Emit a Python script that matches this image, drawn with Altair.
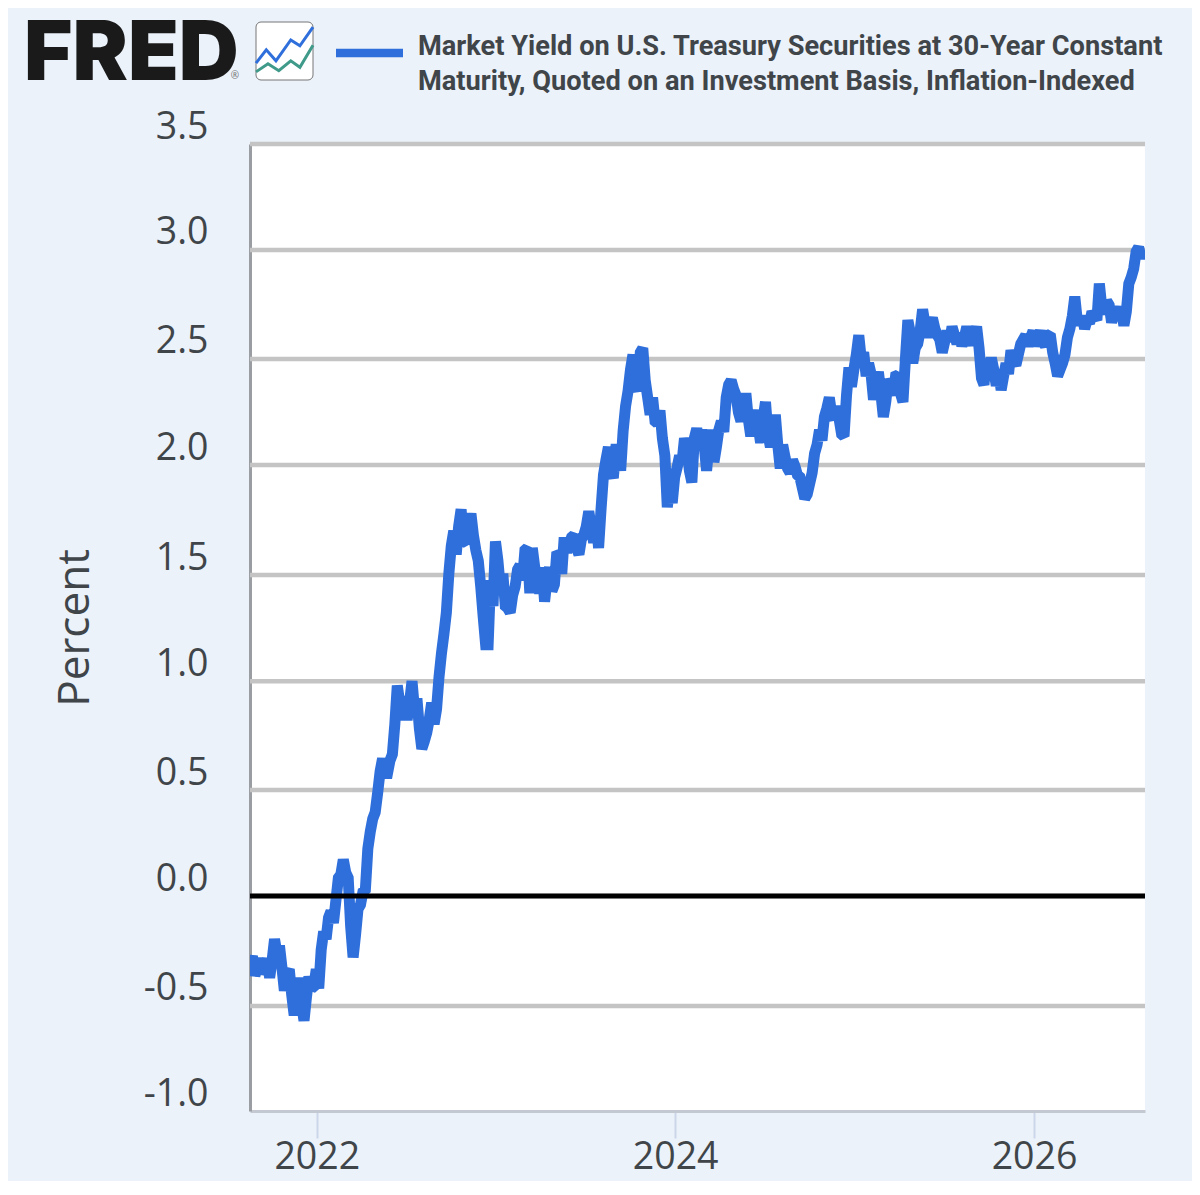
import altair as alt
import pandas as pd

BG = "#ebf2fa"
INK = "#3f4549"
BLUE = "#2f6fdc"

# readings at every 10th day
yields_a = [
    -.31, -.37, -.29, -.34, -.38, -.20, -.23, -.44, -.34, -.555,
    -.38, -.58, -.375, -.42, -.43, -.165, -.10, -.125, .085, .17,
    .085, -.285, -.06, .02, .22, .36, .48, .64, .57, .66,
    .98, .82, .82, 1.0, .92, .685, .76, .90, .87, 1.13,
    1.32, 1.63, 1.59, 1.80, 1.645, 1.78, 1.61, 1.44, 1.17, 1.47,
    1.65, 1.43, 1.35, 1.32, 1.44, 1.54, 1.61, 1.41, 1.53, 1.41,
    1.37, 1.53, 1.45, 1.59, 1.67, 1.64, 1.68, 1.59, 1.68, 1.79,
    1.645, 1.62, 1.96, 2.09, 1.945, 2.08, 2.165, 2.35, 2.52, 2.35,
    2.55, 2.32, 2.32, 2.20, 2.13, 1.81, 1.83, 1.995, 2.02, 2.09,
    1.925, 2.175, 2.17, 1.98, 2.17, 2.09, 2.21, 2.32, 2.40, 2.33,
    2.21, 2.34, 2.14, 2.26, 2.11, 2.30, 2.09, 2.24, 1.99, 2.04,
    1.97, 2.00, 1.95, 1.85, 1.92, 2.06, 2.17, 2.23, 2.32, 2.22,
    2.22, 2.14, 2.46, 2.45, 2.61, 2.53, 2.48, 2.31, 2.44, 2.23,
    2.405, 2.33, 2.425, 2.30, 2.68, 2.48, 2.57, 2.73, 2.60, 2.69,
    2.61, 2.53, 2.63, 2.65, 2.57, 2.56, 2.65, 2.565, 2.65, 2.41,
    2.50, 2.505, 2.375, 2.355, 2.48, 2.54, 2.47, 2.57, 2.61, 2.60,
    2.56, 2.63, 2.56, 2.615, 2.48, 2.45, 2.52, 2.64, 2.79, 2.665,
    2.64, 2.665, 2.70, 2.85, 2.71, 2.75, 2.71, 2.70, 2.655, 2.85,
    2.92, 3.02, 3.00,
]
# readings half-way between those
yields_b = [
    -.28, -.33, -.36, -.29, -.30, -.27, -.33, -.36, -.46, -.46,
    -.50, -.47, -.43, -.34, -.25, -.20, -.07, -.02, .10, .11,
    -.14, -.18, -.04, .03, .30, .39, .58, .57, .63, .80,
    .90, .93, .90, .87, .78, .72, .82, .80, 1.02, 1.22,
    1.50, 1.70, 1.72, 1.65, 1.72, 1.68, 1.56, 1.30, 1.17, 1.35,
    1.56, 1.50, 1.34, 1.40, 1.52, 1.47, 1.62, 1.62, 1.47, 1.53,
    1.47, 1.42, 1.60, 1.50, 1.60, 1.67, 1.62, 1.66, 1.72, 1.72,
    1.76, 1.80, 2.03, 1.98, 2.08, 1.98, 2.28, 2.45, 2.38, 2.53,
    2.40, 2.24, 2.21, 2.26, 2.05, 1.90, 1.95, 2.05, 2.13, 1.98,
    2.13, 2.12, 2.10, 2.10, 2.02, 2.17, 2.16, 2.38, 2.36, 2.25,
    2.27, 2.22, 2.22, 2.19, 2.22, 2.15, 2.15, 2.10, 2.10, 1.99,
    2.03, 1.96, 1.90, 1.87, 1.97, 2.10, 2.12, 2.27, 2.24, 2.28,
    2.15, 2.33, 2.37, 2.52, 2.50, 2.42, 2.43, 2.38, 2.34, 2.30,
    2.38, 2.42, 2.34, 2.50, 2.62, 2.55, 2.63, 2.66, 2.66, 2.64,
    2.59, 2.58, 2.58, 2.61, 2.62, 2.60, 2.60, 2.61, 2.55, 2.38,
    2.44, 2.45, 2.44, 2.42, 2.43, 2.49, 2.52, 2.59, 2.56, 2.63,
    2.60, 2.58, 2.61, 2.53, 2.42, 2.48, 2.60, 2.70, 2.68, 2.70,
    2.68, 2.72, 2.68, 2.74, 2.77, 2.67, 2.74, 2.73, 2.72, 2.88,
    3.00, 2.97,
]
yields = []
for i, v in enumerate(yields_a):
    yields.append(v)
    if i < len(yields_b):
        yields.append(yields_b[i])
dates = [d.strftime("%Y-%m-%d") for d in pd.date_range("2021-08-18", periods=len(yields), freq="5D")]

# where the gridlines and their labels sit in the picture, in percent
y_ticks = [-1.0, -0.511, 0.0, 0.4935, 1.0, 1.494, 2.006, 2.4995, 3.007, 3.5]
y_grid = y_ticks[1:]
x_years = [2022, 2024, 2026]
legend_lines = [
    "Market Yield on U.S. Treasury Securities at 30-Year Constant",
    "Maturity, Quoted on an Investment Basis, Inflation-Indexed",
]
icon_blue_x = [0, 18, 35, 61, 77, 100]
icon_blue_y = [29, 52, 33, 69, 59, 91]
icon_green_x = [0, 21, 40, 61, 77, 100]
icon_green_y = [14, 28, 16, 33, 22, 60]

df = pd.DataFrame({"date": dates, "value": yields})
x_domain = ["2021-08-18", "2026-08-15"]
y_domain = [-1.0, 3.5]

x_scale = alt.Scale(type="utc", domain=x_domain, nice=False)
y_scale = alt.Scale(domain=y_domain, nice=False, zero=False)
Y_TITLE = "Percent"

grid = alt.Chart(pd.DataFrame({"g": y_grid})).mark_rule(color="#c4c4c4", strokeWidth=4.5).encode(
    y=alt.Y(
        "g:Q", scale=y_scale, title=Y_TITLE,
        axis=alt.Axis(
            values=y_ticks, titleFont="Open Sans", titleFontSize=44,
            titleFontWeight="normal", titleColor=INK, titlePadding=46,
            labelExpr="replace(format(datum.value, '.1f'), '\u2212', '-')",
            labelFont="Open Sans", labelFontSize=37.5, labelColor=INK,
            labelPadding=42, labelOffset=-17, labelOverlap=False, labelBound=False,
            ticks=False, domainColor="#9a9ea2", domainWidth=3, grid=False,
        ),
    )
)

line = alt.Chart(df).mark_line(
    color=BLUE, strokeWidth=11, clip=True, strokeJoin="miter", strokeMiterLimit=1.5
).encode(
    x=alt.X(
        "date:T", scale=x_scale, title=None,
        axis=alt.Axis(
            values=[alt.DateTime(year=y, month=1, date=1, utc=True) for y in x_years],
            labelExpr="utcFormat(datum.value, '%Y')",
            labelFont="Open Sans", labelFontSize=37.5, labelColor=INK,
            labelPadding=0, labelFlush=False, labelOverlap=False, labelBound=False,
            tickColor="#ccd6eb", tickWidth=2, tickSize=27,
            domainColor="#c4c8d0", domainWidth=3, grid=False,
        ),
    ),
    y=alt.Y("value:Q", scale=y_scale, title=Y_TITLE),
)

zero = alt.Chart(pd.DataFrame({"z": [0.0]})).mark_rule(color="#000000", strokeWidth=5).encode(
    y=alt.Y("z:Q", scale=y_scale, title=Y_TITLE)
)

main = alt.layer(grid, line, zero)

logo = alt.Chart(pd.DataFrame({"t": ["FRED"]})).mark_text(
    font="Inter", fontWeight=900, fontSize=83, color="#1a1a1a",
    align="left", baseline="alphabetic", clip=False,
).encode(text="t:N", x=alt.value(-226), y=alt.value(-64))

reg = alt.Chart(pd.DataFrame({"t": ["\u00ae"]})).mark_text(
    font="Noto Sans", fontSize=10, color="#777777", align="center", baseline="middle",
).encode(text="t:N", x=alt.value(-15), y=alt.value(-68))

icon_box = alt.Chart(pd.DataFrame({"t": [1]})).mark_rect(
    fill="#ffffff", stroke="#777777", strokeWidth=1, cornerRadius=5,
).encode(x=alt.value(6), x2=alt.value(63), y=alt.value(-122), y2=alt.value(-64))


def icon_line(xs, ys, color):
    return alt.Chart(pd.DataFrame({"ix": xs, "iy": ys})).mark_line(
        color=color, strokeWidth=3, clip=False,
    ).encode(
        x=alt.X("ix:Q", axis=None, scale=alt.Scale(domain=[0, 100], range=[6, 63], nice=False, zero=False)),
        y=alt.Y("iy:Q", axis=None, scale=alt.Scale(domain=[0, 100], range=[-64, -122], nice=False, zero=False)),
    )


swatch = alt.Chart(pd.DataFrame({"t": [1]})).mark_rule(color=BLUE, strokeWidth=8.5).encode(
    x=alt.value(86), x2=alt.value(153), y=alt.value(-91)
)

legend = alt.Chart(pd.DataFrame({"t": legend_lines, "row": [0, 1]})).mark_text(
    font="Roboto", fontWeight=700, fontSize=27.2, color=INK, align="left", baseline="middle",
).transform_calculate(py="-97.5 + 35 * datum.row").encode(
    text="t:N", x=alt.value(168), y=alt.Y("py:Q", axis=None, scale=None)
)

chart = alt.layer(
    main, logo, reg, icon_box,
    icon_line(icon_blue_x, icon_blue_y, "#2f6fdc"),
    icon_line(icon_green_x, icon_green_y, "#3f9a8a"),
    swatch, legend,
).resolve_scale(x="independent", y="independent").properties(
    width=895, height=967,
    background=BG,
    padding={"left": 242, "top": 136, "right": 47, "bottom": 70},
    autosize=alt.AutoSizeParams(type="none"),
).configure_view(fill="#ffffff", stroke=None)

chart.save("out.html", embed_options={"renderer": "svg", "actions": False})
